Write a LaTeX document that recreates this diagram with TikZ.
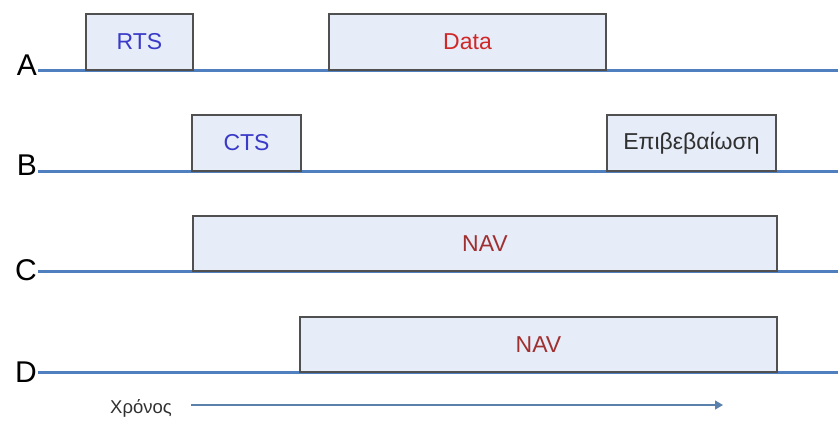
\documentclass[tikz,border=0pt]{standalone}
\usepackage{fontspec}
\setmainfont{Liberation Sans}
\usetikzlibrary{arrows.meta}
\definecolor{lineblue}{HTML}{4F7FBF}
\definecolor{arrowblue}{HTML}{5A80AC}
\definecolor{boxfill}{HTML}{E6ECF8}
\definecolor{boxedge}{HTML}{505050}
\definecolor{txtblue}{HTML}{3A3AC8}
\definecolor{txtred}{HTML}{D02828}
\definecolor{txtnav}{HTML}{A03030}
\definecolor{txtdark}{HTML}{303030}
\begin{document}
\begin{tikzpicture}[x=1pt,y=-1pt,
  timeline/.style={draw=lineblue,line width=3pt},
  slot/.style={draw=boxedge,fill=boxfill,line width=1.6pt,rectangle,inner sep=0pt,
    font=\fontsize{23}{23}\selectfont},
  station/.style={font=\fontsize{30}{30}\selectfont,inner sep=0pt,anchor=base east}]
\useasboundingbox (0,0) rectangle (838,421);
% station labels and time axes
\node[station] (A) at (37,75) {A};
\node[station] (B) at (37,175) {B};
\node[station] (C) at (37,280) {C};
\node[station] (D) at (37,382) {D};
\coordinate (Astart) at (38,70);
\coordinate (Bstart) at (38,171);
\coordinate (Cstart) at (38,271);
\coordinate (Dstart) at (38,372);
\coordinate (Aend) at (838,70);
\coordinate (Bend) at (838,171);
\coordinate (Cend) at (838,271);
\coordinate (Dend) at (838,372);
\draw[timeline] (Astart) -- (Aend);
\draw[timeline] (Bstart) -- (Bend);
\draw[timeline] (Cstart) -- (Cend);
\draw[timeline] (Dstart) -- (Dend);
% transmissions
\node[slot,minimum width=107,minimum height=56] (rts) at (139.5,42) {\color{txtblue}RTS};
\node[slot,minimum width=277,minimum height=56] (data) at (467.5,42) {\color{txtred}Data};
\node[slot,minimum width=109,minimum height=56] (cts) at (246.5,143) {\color{txtblue}CTS};
\node[slot,minimum width=169,minimum height=56] (ack) at (691.5,143) {\color{txtdark}Επιβεβαίωση};
\node[slot,minimum width=584,minimum height=55] (navc) at (485,243.5) {\color{txtnav}NAV};
\node[slot,minimum width=477,minimum height=55] (navd) at (538.5,344.5) {\color{txtnav}NAV};
% time arrow
\node[font=\fontsize{18.5}{18.5}\selectfont,text=txtdark,inner sep=0pt,anchor=base] (time) at (141,413) {Χρόνος};
\coordinate (tstart) at (191,405);
\coordinate (tend) at (723,405);
\draw[draw=arrowblue,line width=1.3pt,-{Triangle[length=8pt,width=9pt]}] (tstart) -- (tend);
\end{tikzpicture}
\end{document}
